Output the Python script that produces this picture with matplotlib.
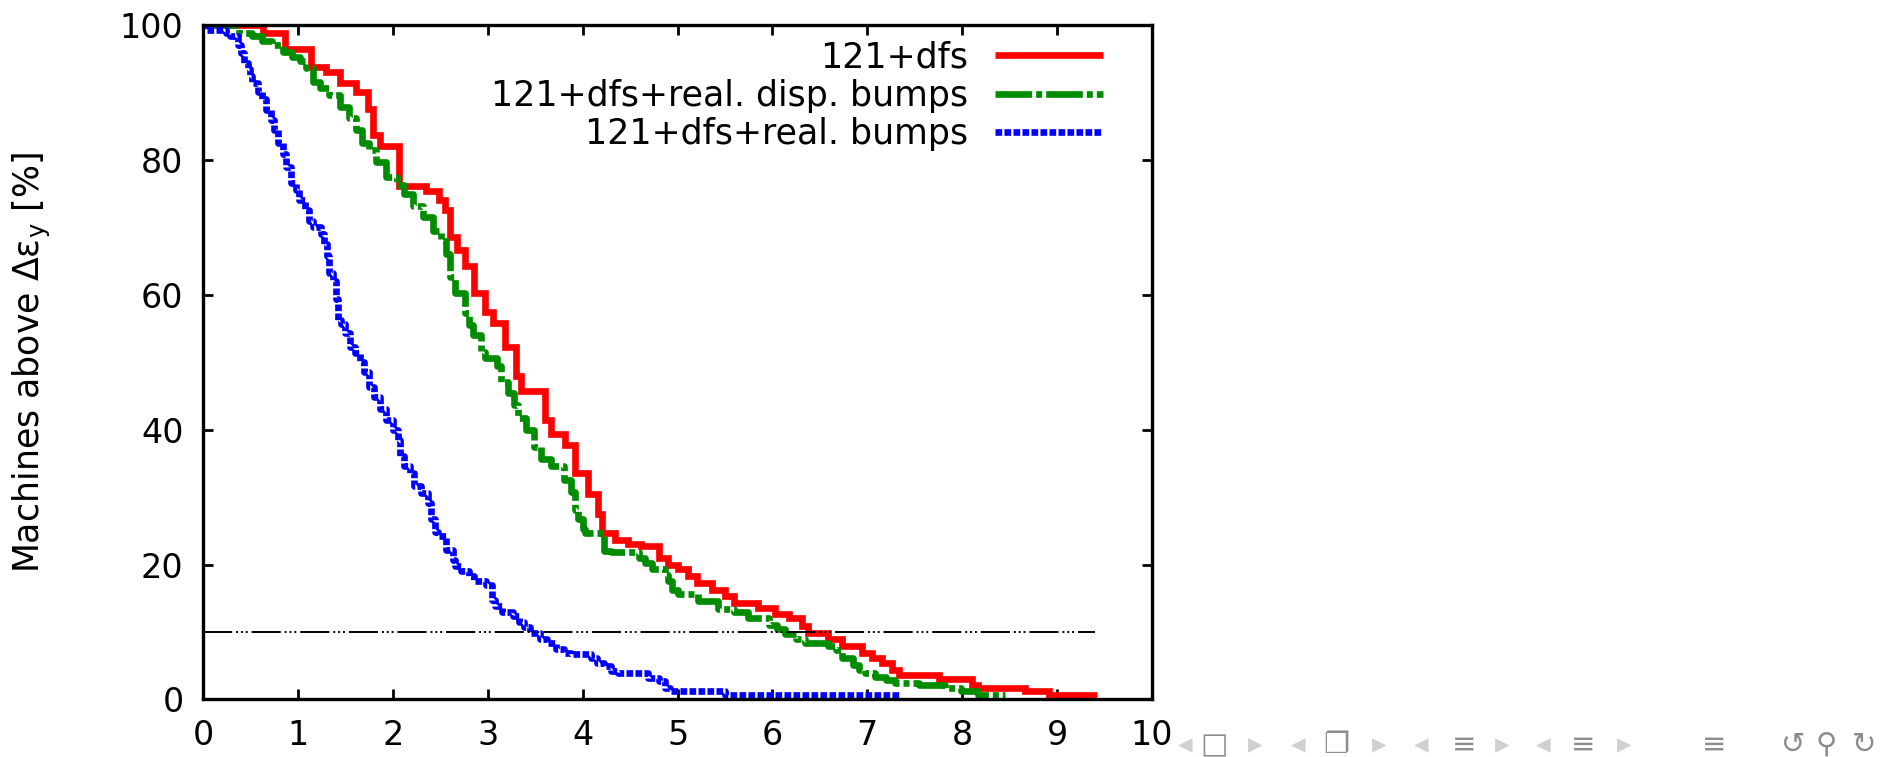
# Importing matplotlib.pyplot
import matplotlib
matplotlib.use('Agg')
import matplotlib.pyplot as plt

plt.rcParams['font.family'] = ['DejaVu Sans', 'Noto Sans', 'Noto Sans CJK SC']
plt.rcParams['mathtext.fontset'] = 'dejavusans'

# Step data: (delta eps_y, % of machines above it)
red_x = [0, 0.63, 0.86, 1.14, 1.30, 1.44, 1.61, 1.74, 1.79, 1.86, 2.07, 2.35, 2.49,
         2.55, 2.60, 2.68, 2.76, 2.86, 2.97, 3.06, 3.18, 3.30, 3.35, 3.60, 3.67,
         3.81, 3.92, 4.06, 4.16, 4.20, 4.34, 4.48, 4.62, 4.80, 4.90, 5.01, 5.11,
         5.21, 5.36, 5.50, 5.59, 5.85, 6.03, 6.17, 6.31, 6.38, 6.59, 6.73, 6.94,
         7.05, 7.15, 7.26, 7.33, 7.75, 8.10, 8.17, 8.66, 8.91, 9.42]
red_y = [100, 98.8, 96.5, 93.8, 93.1, 91.4, 90.1, 87.5, 83.7, 82.0, 76.1, 75.4, 74.0,
         72.5, 68.6, 66.7, 64.2, 60.2, 57.5, 55.8, 52.3, 47.9, 45.7, 41.5, 39.3,
         37.8, 33.6, 30.4, 27.5, 24.7, 23.7, 23.0, 22.7, 21.0, 20.0, 19.3, 18.3,
         17.3, 16.3, 15.3, 14.3, 13.6, 12.6, 12.1, 10.9, 9.9, 8.9, 7.9, 6.9,
         6.2, 5.4, 4.4, 3.7, 3.0, 2.2, 1.7, 1.2, 0.7, 0.7]

green_x = [0, 0.38, 0.52, 0.62, 0.73, 0.84, 0.94, 1.02, 1.09, 1.16, 1.23, 1.33, 1.44,
           1.54, 1.61, 1.68, 1.75, 1.82, 1.93, 2.04, 2.12, 2.21, 2.32, 2.42, 2.51,
           2.56, 2.60, 2.66, 2.76, 2.80, 2.85, 2.93, 2.97, 3.10, 3.14, 3.21, 3.28,
           3.32, 3.40, 3.49, 3.56, 3.67, 3.80, 3.88, 3.92, 3.95, 4.00, 4.02, 4.23,
           4.30, 4.59, 4.66, 4.73, 4.87, 4.90, 4.94, 5.01, 5.22, 5.43, 5.60, 5.74,
           5.96, 6.05, 6.13, 6.25, 6.34, 6.59, 6.67, 6.73, 6.85, 6.91, 6.98, 7.08,
           7.20, 7.29, 7.54, 7.82, 7.99, 8.17, 8.45]
green_y = [100, 98.8, 98.3, 97.6, 97.0, 96.0, 95.3, 94.6, 93.6, 91.6, 90.6, 89.6, 87.9,
           86.2, 84.4, 82.5, 81.5, 79.7, 77.5, 76.3, 75.0, 73.1, 71.6, 69.4, 67.9,
           66.0, 62.7, 60.2, 57.3, 55.5, 54.0, 51.5, 50.7, 49.5, 47.1, 45.5, 43.6,
           41.7, 39.9, 37.5, 35.6, 34.6, 32.6, 30.7, 28.1, 26.7, 25.2, 24.7, 22.0,
           21.8, 21.0, 20.2, 19.3, 18.5, 17.6, 16.3, 15.6, 14.6, 13.4, 12.9, 12.1,
           11.1, 10.4, 9.7, 8.9, 8.4, 7.9, 7.4, 6.2, 5.1, 4.4, 3.9, 3.4,
           2.9, 2.5, 2.1, 1.7, 1.2, 0.7, 0.7]

blue_x = [0, 0.03, 0.24, 0.28, 0.37, 0.40, 0.43, 0.47, 0.50, 0.52, 0.58, 0.62, 0.66,
          0.72, 0.75, 0.79, 0.84, 0.88, 0.93, 0.98, 1.01, 1.08, 1.12, 1.16, 1.24,
          1.28, 1.31, 1.33, 1.37, 1.40, 1.42, 1.45, 1.50, 1.55, 1.60, 1.65, 1.70,
          1.75, 1.80, 1.86, 1.93, 2.00, 2.05, 2.08, 2.12, 2.18, 2.22, 2.30, 2.37,
          2.40, 2.44, 2.48, 2.56, 2.63, 2.66, 2.72, 2.80, 2.86, 2.98, 3.05, 3.08,
          3.15, 3.27, 3.33, 3.38, 3.45, 3.55, 3.62, 3.72, 3.80, 3.88, 4.09, 4.15,
          4.23, 4.30, 4.37, 4.69, 4.80, 4.87, 4.92, 5.50, 7.35]
blue_y = [100, 99.3, 98.8, 98.3, 97.0, 95.8, 94.4, 93.4, 92.4, 91.4, 90.1, 89.0, 87.4,
          85.9, 84.4, 82.5, 80.9, 79.0, 76.5, 75.6, 74.1, 72.6, 71.0, 70.0, 69.0,
          67.5, 65.7, 63.2, 62.0, 59.3, 56.3, 55.6, 54.4, 52.3, 51.3, 50.0, 48.5,
          46.4, 44.9, 43.0, 41.5, 40.0, 38.5, 36.1, 34.6, 33.6, 31.6, 30.6, 29.1,
          26.7, 24.9, 24.2, 22.2, 20.7, 19.8, 19.0, 18.3, 17.6, 17.0, 14.8, 13.8,
          13.0, 12.4, 11.5, 10.7, 9.9, 9.0, 8.3, 7.5, 6.9, 6.7, 6.2, 5.4,
          4.9, 4.2, 3.9, 3.2, 2.7, 1.7, 1.2, 0.7, 0.7]

labels = ['121+dfs', '121+dfs+real. disp. bumps', '121+dfs+real. bumps']
threshold = 10
threshold_x = [0, 9.4]

# Creating the figure
fig = plt.figure(figsize=(18.97, 7.57), dpi=100)
ax = fig.add_axes([0.107, 0.076, 0.5003, 0.891])

# Drawing the three step curves
ax.step(red_x, red_y, where='post', color='#ff0000', lw=4.8,
        solid_joinstyle='miter', solid_capstyle='butt', label=labels[0])
ax.step(green_x, green_y, where='post', color='#008c00', lw=4.8,
        dashes=(5.5, 0.6, 0.9, 0.6), dash_capstyle='butt', label=labels[1])
ax.step(blue_x, blue_y, where='post', color='#0000ff', lw=4.8,
        dashes=(1.0, 0.35), dash_capstyle='butt', label=labels[2])

# The 10 % line
ax.plot(threshold_x, [threshold, threshold], color='black', lw=1.4,
        dashes=(15, 2, 1, 1.5, 1, 1.5, 1, 2))

# Axes limits, ticks and frame
ax.set_xlim(0, 10)
ax.set_ylim(0, 100)
ax.set_xticks(range(0, 11))
ax.set_yticks(range(0, 101, 20))
ax.tick_params(direction='in', length=7, width=2, top=True, right=True,
               labelsize=24, pad=14)
for sp in ax.spines.values():
    sp.set_linewidth(2.4)

ax.set_ylabel('Machines above $\\mathrm{\\Delta\\varepsilon_y}$ [%]', fontsize=25)
ax.yaxis.set_label_coords(-0.158, 0.5)

# Legend with the text left of the line sample
ax.legend(loc='upper right', bbox_to_anchor=(0.948, 0.977), frameon=False,
          markerfirst=False, fontsize=25, handlelength=3.1, handletextpad=0.78,
          labelspacing=0.12, borderpad=0, borderaxespad=0)

# Beamer navigation symbols in the lower right corner
nav = [('◂', 1185, '#d0d0d0'), ('□', 1214, '#8c8c8c'), ('▸', 1255, '#d0d0d0'),
       ('◂', 1298, '#d0d0d0'), ('❐', 1336, '#8c8c8c'), ('▸', 1379, '#d0d0d0'),
       ('◂', 1421, '#d0d0d0'), ('≡', 1464, '#8c8c8c'), ('▸', 1502, '#d0d0d0'),
       ('◂', 1543, '#d0d0d0'), ('≡', 1583, '#8c8c8c'), ('▸', 1624, '#d0d0d0'),
       ('≡', 1714, '#8c8c8c'), ('↺', 1793, '#8c8c8c'), ('⚲', 1826, '#8c8c8c'),
       ('↻', 1864, '#8c8c8c')]
for s, px, c in nav:
    fig.text(px / 1897, 1 - 745 / 757, s, color=c, fontsize=21,
             ha='center', va='center')

fig.savefig('out.png', dpi=100)
